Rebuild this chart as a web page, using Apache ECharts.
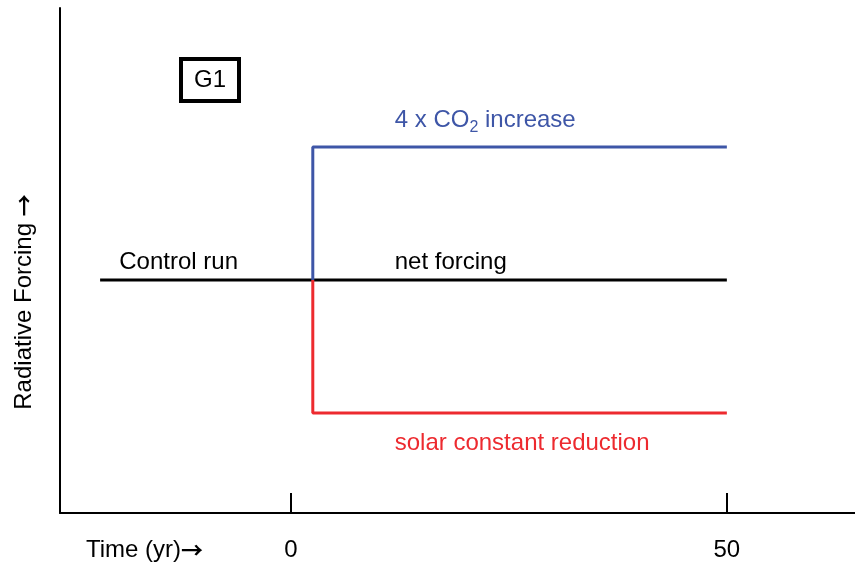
<!DOCTYPE html>
<html>
<head>
<meta charset="utf-8">
<script src="https://cdn.jsdelivr.net/npm/echarts@6/dist/echarts.min.js"></script>
<style>html,body{margin:0;padding:0;background:#fff}#c{width:855px;height:567px}</style>
</head>
<body>
<div id="c"></div>
<script>
// Data (time in years, forcing in arbitrary units)
const xTicks = [0, 50];
const controlX = [-21.9, 2.5, 50];
const controlY = [0, 0, 0];
const co2X = [2.5, 2.5, 50];
const co2Y = [0, 1, 1];
const solarX = [2.5, 2.5, 50];
const solarY = [0, -1, -1];

const FONT = '"Liberation Sans", Arial, sans-serif';
const FS = 24;
const BLUE = '#3e56a7';
const RED = '#ed2a2f';

const zip = (xs, ys) => xs.map((x, i) => [x, ys[i]]);

const chart = echarts.init(document.getElementById('c'));
chart.setOption({
  animation: false,
  grid: { left: 60, right: 0, top: 8, bottom: 54, containLabel: false },
  xAxis: {
    type: 'value', min: -26.5, max: 64.7,
    axisLine: { show: true, onZero: false, lineStyle: { color: '#000', width: 2 } },
    axisTick: { show: true, inside: true, length: 20, lineStyle: { color: '#000', width: 2 }, customValues: xTicks },
    axisLabel: { show: true, margin: 25, fontSize: FS, fontFamily: FONT, color: '#000', customValues: xTicks },
    splitLine: { show: false }
  },
  yAxis: {
    type: 'value', min: -1.752, max: 2.045,
    axisLine: { show: true, onZero: false, lineStyle: { color: '#000', width: 2 } },
    axisTick: { show: false }, axisLabel: { show: false }, splitLine: { show: false }
  },
  series: [
    { type: 'line', data: zip(controlX, controlY), symbol: 'none', lineStyle: { color: '#000', width: 3 } },
    { type: 'line', data: zip(co2X, co2Y), symbol: 'none', lineStyle: { color: BLUE, width: 3 } },
    { type: 'line', data: zip(solarX, solarY), symbol: 'none', lineStyle: { color: RED, width: 3 } }
  ]
});

const p = (x, y) => chart.convertToPixel({ gridIndex: 0 }, [x, y]);
const txt = (pos, text, color, extra) => Object.assign({
  type: 'text', x: pos[0], y: pos[1],
  style: { text, fill: color, font: FS + 'px ' + FONT, verticalAlign: 'middle' }
}, extra || {});
const arrowRich = { arr: { fontFamily: '"Noto Sans CJK SC", sans-serif', fontSize: 22, fontWeight: 'bold', fill: '#000' } };

const pControl = p(-19.7, 0);
const pNet = p(11.9, 0);
const pCo2 = p(11.9, 1);
const pSolar = p(11.9, -1);

chart.setOption({
  graphic: [
    txt([pControl[0], pControl[1] - 18], 'Control run', '#000'),
    txt([pNet[0], pNet[1] - 18], 'net forcing', '#000'),
    {
      type: 'text', x: pCo2[0], y: pCo2[1] - 27,
      style: {
        text: '4 x CO{sub|2} increase', fill: BLUE, font: FS + 'px ' + FONT,
        verticalAlign: 'middle',
        rich: { sub: { fontSize: 16, fontFamily: FONT, fill: BLUE, padding: [16, 0, 0, 0] } }
      }
    },
    txt([pSolar[0], pSolar[1] + 30], 'solar constant reduction', RED),
    {
      type: 'text', x: 86, y: 550,
      style: { text: 'Time (yr){arr|\u2192}', fill: '#000', font: FS + 'px ' + FONT, verticalAlign: 'middle', rich: arrowRich }
    },
    {
      type: 'text', x: 24, y: 302, rotation: Math.PI / 2,
      style: { text: 'Radiative Forcing {arr|\u2192}', fill: '#000', font: FS + 'px ' + FONT, align: 'center', verticalAlign: 'middle', rich: arrowRich }
    },
    { type: 'rect', shape: { x: 181, y: 59, width: 58, height: 42 }, style: { fill: '#fff', stroke: '#000', lineWidth: 4 } },
    { type: 'text', x: 210, y: 80, style: { text: 'G1', fill: '#000', font: FS + 'px ' + FONT, align: 'center', verticalAlign: 'middle' } }
  ]
});
</script>
</body>
</html>
